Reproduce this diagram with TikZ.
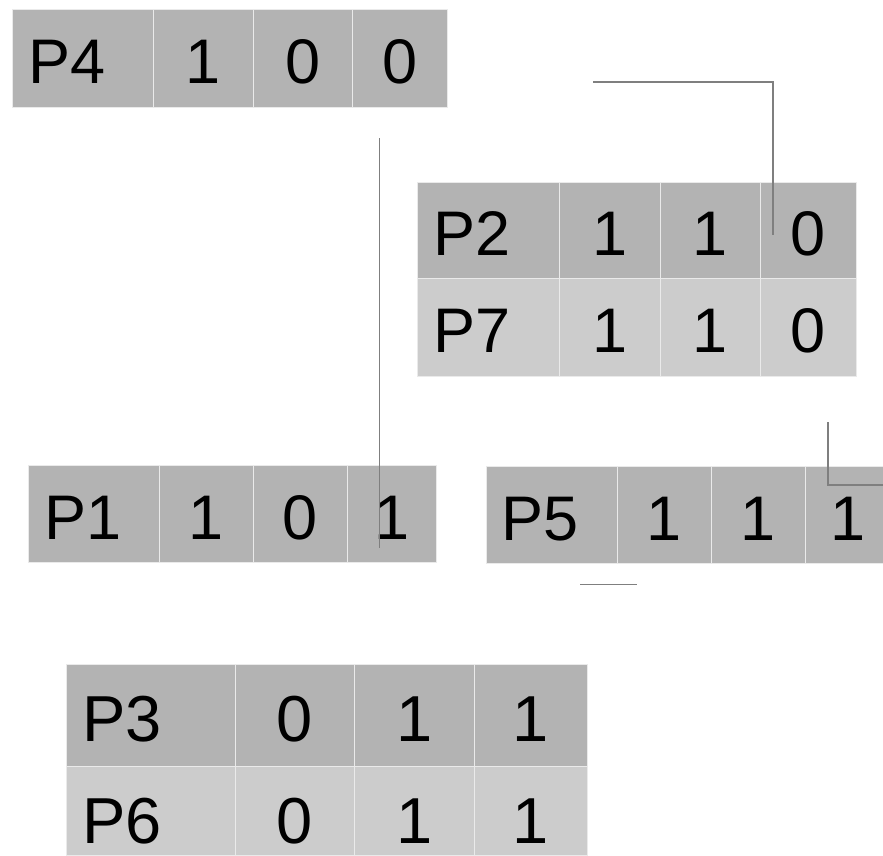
\documentclass[tikz,border=0pt]{standalone}
\usepackage{fontspec}
\setmainfont{Liberation Sans}
\definecolor{darkcell}{HTML}{B3B3B3}
\definecolor{lightcell}{HTML}{CCCCCC}
\definecolor{cellrule}{HTML}{EAEAEA}
\definecolor{wire}{HTML}{7F7F7F}
\begin{document}
\begin{tikzpicture}[x=1pt,y=-1pt,
  cellbox/.style={draw=cellrule,line width=1pt,inner sep=0pt,anchor=north west,
     text height=50pt,text depth=0pt,font=\fontsize{63}{70}\selectfont},
  bigcell/.style={cellbox,text height=52pt,font=\fontsize{65}{72}\selectfont},
  lastcell/.style={cellbox,text height=64pt,font=\fontsize{65}{72}\selectfont},
  dark/.style={fill=darkcell},
  light/.style={fill=lightcell},
  lbl/.style={inner sep=0pt,anchor=base west,font=\fontsize{63}{70}\selectfont},
  biglbl/.style={lbl,font=\fontsize{65}{72}\selectfont},
  wireline/.style={draw=wire,line width=1.6pt}]
\useasboundingbox (0,0) rectangle (883,855);
\clip (0,0) rectangle (883,855);
% P4 row
\node[cellbox,dark,minimum width=141pt,minimum height=98pt] (p4a) at (12,9) {};
\node[cellbox,dark,minimum width=100pt,minimum height=98pt] (p4b) at (153,9) {1};
\node[cellbox,dark,minimum width=99pt,minimum height=98pt] (p4c) at (253,9) {0};
\node[cellbox,dark,minimum width=95pt,minimum height=98pt] (p4d) at (352,9) {0};
\node[lbl] (p4l) at ([xshift=16pt,yshift=-25pt]p4a.west) {P4};
% P2 row
\node[cellbox,dark,minimum width=142pt,minimum height=96pt] (p2a) at (417,182) {};
\node[cellbox,dark,minimum width=101pt,minimum height=96pt] (p2b) at (559,182) {1};
\node[cellbox,dark,minimum width=100pt,minimum height=96pt] (p2c) at (660,182) {1};
\node[cellbox,dark,minimum width=96pt,minimum height=96pt] (p2d) at (760,182) {0};
\node[lbl] (p2l) at ([xshift=16pt,yshift=-25pt]p2a.west) {P2};
% P7 row
\node[cellbox,light,minimum width=142pt,minimum height=98pt] (p7a) at (417,278) {};
\node[cellbox,light,minimum width=101pt,minimum height=98pt] (p7b) at (559,278) {1};
\node[cellbox,light,minimum width=100pt,minimum height=98pt] (p7c) at (660,278) {1};
\node[cellbox,light,minimum width=96pt,minimum height=98pt] (p7d) at (760,278) {0};
\node[lbl] (p7l) at ([xshift=16pt,yshift=-25pt]p7a.west) {P7};
% P1 row
\node[cellbox,dark,minimum width=131pt,minimum height=97pt] (p1a) at (28,465) {};
\node[cellbox,dark,minimum width=94pt,minimum height=97pt] (p1b) at (159,465) {1};
\node[cellbox,dark,minimum width=94pt,minimum height=97pt] (p1c) at (253,465) {0};
\node[cellbox,dark,minimum width=89pt,minimum height=97pt] (p1d) at (347,465) {1};
\node[lbl] (p1l) at ([xshift=16pt,yshift=-25pt]p1a.west) {P1};
% P5 row
\node[cellbox,dark,minimum width=131pt,minimum height=97pt] (p5a) at (486,466) {};
\node[cellbox,dark,minimum width=94pt,minimum height=97pt] (p5b) at (617,466) {1};
\node[cellbox,dark,minimum width=94pt,minimum height=97pt] (p5c) at (711,466) {1};
\node[cellbox,dark,minimum width=86pt,minimum height=97pt] (p5d) at (805,466) {1};
\node[lbl] (p5l) at ([xshift=15pt,yshift=-25pt]p5a.west) {P5};
% P3 row
\node[bigcell,dark,minimum width=169pt,minimum height=102pt] (p3a) at (66,664) {};
\node[bigcell,dark,minimum width=119pt,minimum height=102pt] (p3b) at (235,664) {0};
\node[bigcell,dark,minimum width=120pt,minimum height=102pt] (p3c) at (354,664) {1};
\node[bigcell,dark,minimum width=113pt,minimum height=102pt] (p3d) at (474,664) {1};
\node[biglbl] (p3l) at ([xshift=16pt,yshift=-26pt]p3a.west) {P3};
% P6 row (runs off the bottom edge)
\node[lastcell,light,minimum width=169pt,minimum height=89pt] (p6a) at (66,766) {};
\node[lastcell,light,minimum width=119pt,minimum height=89pt] (p6b) at (235,766) {0};
\node[lastcell,light,minimum width=120pt,minimum height=89pt] (p6c) at (354,766) {1};
\node[lastcell,light,minimum width=113pt,minimum height=89pt] (p6d) at (474,766) {1};
\node[biglbl] (p6l) at ([xshift=16pt,yshift=-32pt]p6a.west) {P6};
% connectors
\coordinate (aS) at (593,82);
\coordinate (aE) at (773,235);
\draw[wireline] (aS) -| (aE);
\coordinate (bS) at (379.5,138);
\coordinate (bE) at (379.5,548);
\draw[wireline] (bS) -- (bE);
\coordinate (cS) at (828,422);
\coordinate (cE) at (884,485);
\draw[wireline] (cS) |- (cE);
\coordinate (dS) at (580,584.5);
\coordinate (dE) at (637,584.5);
\draw[wireline] (dS) -- (dE);
\end{tikzpicture}
\end{document}
